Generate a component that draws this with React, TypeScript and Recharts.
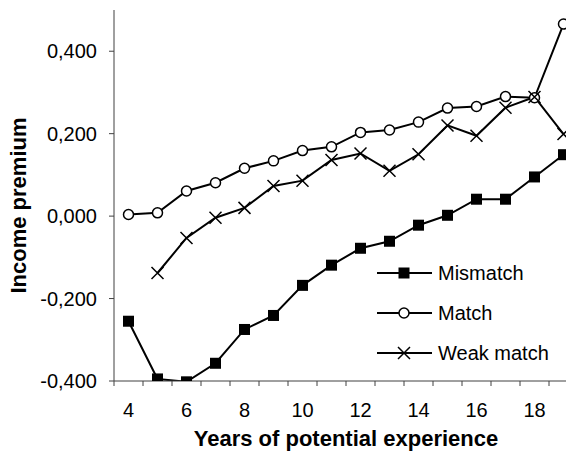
import React from "react";
import { LineChart, Line, XAxis, YAxis, Legend, Label } from "recharts";

// Years of potential experience
const years = [4, 5, 6, 7, 8, 9, 10, 11, 12, 13, 14, 15, 16, 17, 18, 19];

const mismatch = [
  -0.255, -0.395, -0.402, -0.357, -0.275, -0.241, -0.168, -0.119,
  -0.078, -0.061, -0.022, 0.002, 0.041, 0.041, 0.095, 0.149,
];
const match = [
  0.004, 0.008, 0.061, 0.081, 0.116, 0.134, 0.159, 0.168,
  0.203, 0.209, 0.228, 0.262, 0.266, 0.29, 0.287, 0.466,
];
const weakMatch = [
  null, -0.138, -0.053, -0.004, 0.02, 0.073, 0.086, 0.136,
  0.152, 0.11, 0.15, 0.22, 0.195, 0.263, 0.289, 0.199,
];

const xLabelTicks = [4, 6, 8, 10, 12, 14, 16, 18];
const yTicks = [-0.4, -0.2, 0, 0.2, 0.4];

const data = years.map((year, i) => ({
  year,
  mismatch: mismatch[i],
  match: match[i],
  weakMatch: weakMatch[i],
}));

// category boundaries, where the little tick marks sit
const boundaries = [...years.map((y) => y - 0.5), years[years.length - 1] + 0.5];

const FONT = '"Liberation Sans", Arial, sans-serif';
const AXIS = "#404040";

const SquareDot = (p: any) => {
  if (p.cx == null || p.cy == null) return <g key={`s-${p.index}`} />;
  return <rect key={`s-${p.index}`} x={p.cx - 5.5} y={p.cy - 5.5} width={11} height={11} fill="#000" />;
};

const CircleDot = (p: any) => {
  if (p.cx == null || p.cy == null) return <g key={`c-${p.index}`} />;
  return <circle key={`c-${p.index}`} cx={p.cx} cy={p.cy} r={5} fill="#fff" stroke="#000" strokeWidth={1.5} />;
};

const CrossDot = (p: any) => {
  if (p.cx == null || p.cy == null) return <g key={`x-${p.index}`} />;
  const s = 6;
  return (
    <path
      key={`x-${p.index}`}
      d={`M${p.cx - s},${p.cy - s}L${p.cx + s},${p.cy + s}M${p.cx - s},${p.cy + s}L${p.cx + s},${p.cy - s}`}
      stroke="#000"
      strokeWidth={1.5}
      fill="none"
    />
  );
};

const legendItems = [
  { name: "Mismatch", Dot: SquareDot },
  { name: "Match", Dot: CircleDot },
  { name: "Weak match", Dot: CrossDot },
];

const renderLegend = () => (
  <div style={{ fontFamily: FONT, fontSize: 20, color: "#000" }}>
    {legendItems.map(({ name, Dot }) => (
      <div key={name} style={{ display: "flex", alignItems: "center", height: 40 }}>
        <svg width={56} height={40}>
          <line x1={0} x2={55} y1={20} y2={20} stroke="#000" strokeWidth={2} />
          <Dot cx={27} cy={20} index={0} />
        </svg>
        <span style={{ marginLeft: 5 }}>{name}</span>
      </div>
    ))}
  </div>
);

const YTitle = (props: any) => {
  const vb = props.viewBox;
  const x = vb.x + 18;
  const y = vb.y + vb.height / 2 + 10;
  return (
    <text
      x={x}
      y={y}
      transform={`rotate(-90, ${x}, ${y})`}
      textAnchor="middle"
      fontFamily={FONT}
      fontSize={22}
      fontWeight="bold"
      fill="#000"
    >
      Income premium
    </text>
  );
};

export default function App() {
  return (
    <div style={{ width: 566, height: 446, overflow: "hidden" }}>
      <LineChart
        width={570}
        height={446}
        data={data}
        margin={{ top: 2, right: 0, bottom: 3, left: 0 }}
        style={{ fontFamily: FONT }}
      >
        <XAxis
          xAxisId="b"
          dataKey="year"
          type="number"
          domain={[3.5, 19.5]}
          allowDataOverflow
          ticks={xLabelTicks}
          interval={0}
          axisLine={false}
          tickLine={false}
          height={69}
          tickSize={6}
          tickMargin={15}
          tick={{ fontSize: 20, fill: "#000" }}
        >
          <Label
            value="Years of potential experience"
            position="insideBottom"
            offset={5}
            style={{ fontSize: 22, fontWeight: "bold", fill: "#000" }}
          />
        </XAxis>
        <XAxis
          xAxisId="a"
          dataKey="year"
          type="number"
          domain={[3.5, 19.5]}
          allowDataOverflow
          ticks={boundaries}
          interval={0}
          tickFormatter={() => ""}
          height={1}
          tickSize={5}
          stroke={AXIS}
        />
        <YAxis
          domain={[-0.4, 0.5]}
          allowDataOverflow
          ticks={yTicks}
          interval={0}
          width={106}
          tickSize={5}
          tickMargin={12}
          stroke={AXIS}
          tick={{ fontSize: 20, fill: "#000" }}
          tickFormatter={(v: number) => v.toFixed(3).replace(".", ",")}
        >
          <Label content={YTitle} />
        </YAxis>
        <Legend
          content={renderLegend}
          layout="vertical"
          align="center"
          verticalAlign="middle"
          wrapperStyle={{ left: 369, top: 245, width: "auto" }}
        />
        <Line
          xAxisId="b"
          dataKey="mismatch"
          name="Mismatch"
          stroke="#000"
          strokeWidth={2}
          dot={SquareDot}
          isAnimationActive={false}
        />
        <Line
          xAxisId="b"
          dataKey="match"
          name="Match"
          stroke="#000"
          strokeWidth={2}
          dot={CircleDot}
          isAnimationActive={false}
        />
        <Line
          xAxisId="b"
          dataKey="weakMatch"
          name="Weak match"
          stroke="#000"
          strokeWidth={2}
          dot={CrossDot}
          isAnimationActive={false}
        />
      </LineChart>
    </div>
  );
}
